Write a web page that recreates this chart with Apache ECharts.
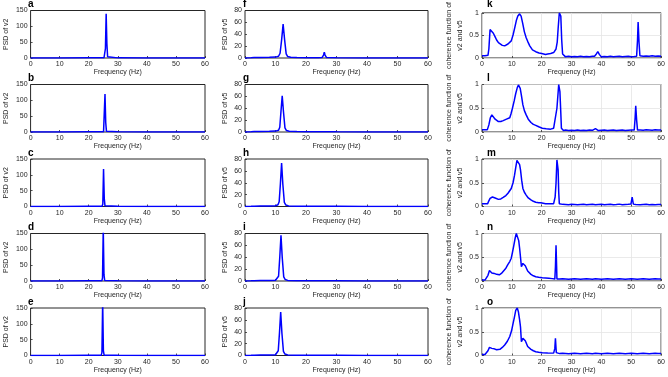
<!DOCTYPE html>
<html>
<head>
<meta charset="utf-8">
<script src="https://cdn.jsdelivr.net/npm/echarts@6/dist/echarts.min.js"></script>
<style>html,body{margin:0;padding:0;background:#fff;}#c{width:668px;height:377px;}</style>
</head>
<body>
<div id="c"></div>
<script>
// ---- Data: [frequency (Hz), value] ----
const xTicks = [0, 10, 20, 30, 40, 50, 60];
const panelLetters = [['a','b','c','d','e'],['f','g','h','i','j'],['k','l','m','n','o']];
const yNames = ['PSD of v2', 'PSD of v5', 'coherence function of\nv2 and v5'];
const yMax = [150, 80, 1];
const yStep = [50, 20, 0.5];

// Column 1: PSD of v2
const psdV2_a = [[0,0.3],[10,0.3],[20,0.4],[25.25,0.5],[25.5,2],[25.75,30],[26,140],[26.25,45],[26.5,4],[26.75,0.6],[30,0.4],[40,0.3],[52,0.3],[60,0.3]];
const psdV2_b = [[0,0.3],[10,0.3],[20,0.4],[25.1,0.5],[25.35,5],[25.6,120],[25.85,30],[26.1,2],[26.35,0.5],[30,0.4],[40,0.3],[60,0.3]];
const psdV2_c = [[0,0.3],[10,0.3],[20,0.4],[24.6,0.5],[24.85,8],[25.1,118],[25.35,25],[25.6,2],[25.85,0.5],[30,0.4],[40,0.3],[60,0.3]];
const psdV2_d = [[0,0.3],[10,0.3],[20,0.4],[24.5,0.5],[24.75,10],[25,165],[25.25,20],[25.5,1.5],[25.75,0.5],[30,0.4],[40,0.3],[60,0.3]];
const psdV2_e = [[0,0.3],[10,0.3],[20,0.4],[24.3,0.5],[24.55,10],[24.8,170],[25.05,15],[25.3,1],[25.55,0.5],[30,0.4],[40,0.3],[60,0.3]];

// Column 2: PSD of v5
const psdV5_f = [[0,0.2],[2,0.3],[3,0.8],[5,1],[8,1.2],[10,1.5],[11,3],[11.5,8],[12,30],[12.5,57],[13,30],[13.5,7],[14,2.5],[15,1.2],[17,0.8],[20,0.5],[24,0.4],[25.25,0.8],[25.75,5],[26,10],[26.25,5],[26.75,0.8],[30,0.3],[40,0.2],[60,0.2]];
const psdV5_g = [[0,0.2],[2,0.3],[3,0.7],[5,0.9],[8,1.1],[10,1.5],[11,3],[11.4,8],[11.8,35],[12.2,61],[12.6,35],[13.1,7],[13.6,2.5],[14.5,1.2],[17,0.7],[20,0.5],[25.3,0.5],[25.8,3],[26.3,0.5],[30,0.3],[40,0.2],[60,0.2]];
const psdV5_h = [[0,0.2],[2,0.3],[3,0.6],[5,0.8],[8,1],[10,1.3],[10.8,3],[11.2,8],[11.6,38],[12,73],[12.4,38],[12.9,7],[13.4,2.5],[14.3,1],[17,0.6],[20,0.4],[25,0.4],[25.6,1.2],[26.2,0.4],[30,0.3],[40,0.2],[60,0.2]];
const psdV5_i = [[0,0.2],[2,0.3],[3,0.6],[5,0.8],[8,1],[10,1.3],[10.6,3],[11,8],[11.4,40],[11.8,77],[12.2,40],[12.7,7],[13.2,2.5],[14,1],[17,0.6],[20,0.4],[30,0.3],[40,0.2],[60,0.2]];
const psdV5_j = [[0,0.2],[2,0.3],[3,0.6],[5,0.8],[8,1],[10,1.3],[10.5,3],[10.9,8],[11.3,38],[11.7,73],[12.1,38],[12.6,7],[13.1,2.5],[14,1],[17,0.6],[20,0.4],[30,0.3],[40,0.2],[60,0.2]];

// Column 3: coherence function of v2 and v5
const coh_k = [[0,0.05],[1,0.05],[2,0.06],[2.3,0.2],[2.7,0.63],[3.2,0.62],[3.8,0.55],[4.4,0.47],[4.9,0.4],[5.5,0.34],[6,0.3],[6.8,0.28],[7.6,0.27],[8.2,0.28],[8.7,0.31],[9.3,0.31],[9.8,0.38],[10.4,0.51],[11,0.68],[11.5,0.83],[12,0.93],[12.6,0.98],[13.1,0.93],[13.6,0.78],[14.2,0.58],[14.8,0.45],[15.3,0.37],[16,0.27],[16.9,0.18],[18,0.14],[19.1,0.11],[20,0.1],[21.3,0.08],[22,0.09],[23,0.1],[24,0.12],[24.8,0.2],[25.2,0.35],[25.5,0.65],[25.9,1.0],[26.4,0.93],[26.7,0.4],[27,0.09],[27.9,0.03],[29,0.04],[30,0.03],[31,0.035],[32,0.03],[33,0.04],[34,0.03],[35,0.035],[36,0.03],[37,0.04],[37.7,0.04],[38.3,0.09],[38.8,0.14],[39.3,0.08],[39.9,0.03],[41,0.035],[42,0.03],[43,0.04],[44,0.03],[45,0.035],[46,0.04],[47,0.03],[48,0.035],[49,0.04],[50,0.03],[51,0.035],[51.8,0.04],[52.1,0.4],[52.3,0.8],[52.6,0.35],[52.9,0.05],[54,0.04],[55,0.045],[56,0.04],[57,0.05],[58,0.04],[59,0.045],[60,0.04]];
const coh_l = [[0,0.05],[1,0.05],[1.8,0.05],[2.3,0.15],[2.8,0.3],[3.3,0.36],[3.9,0.32],[4.4,0.27],[5,0.24],[5.5,0.22],[6.3,0.22],[7.1,0.24],[7.7,0.25],[8.2,0.27],[8.7,0.31],[9.3,0.3],[9.7,0.38],[10.2,0.5],[10.8,0.66],[11.3,0.81],[11.8,0.93],[12.2,0.99],[12.8,0.92],[13.2,0.77],[13.7,0.57],[14.2,0.45],[14.8,0.36],[15.5,0.27],[16.4,0.2],[17.2,0.16],[18,0.14],[19,0.11],[20.2,0.08],[21.5,0.07],[23,0.06],[24,0.08],[24.6,0.12],[25.1,0.5],[25.7,1.0],[26.1,0.85],[26.4,0.4],[26.6,0.08],[27.3,0.03],[28,0.04],[29,0.03],[30,0.035],[31,0.03],[32,0.04],[33,0.03],[34,0.035],[35,0.03],[36,0.04],[37,0.035],[37.6,0.04],[38,0.07],[38.5,0.04],[39,0.03],[40,0.035],[41,0.04],[42,0.03],[43,0.035],[44,0.04],[45,0.03],[46,0.035],[47,0.04],[48,0.03],[49,0.035],[50,0.04],[51,0.04],[51.3,0.3],[51.5,0.55],[51.8,0.25],[52.1,0.04],[53,0.04],[54,0.035],[55,0.045],[56,0.04],[57,0.035],[58,0.045],[59,0.04],[60,0.04]];
const coh_m = [[0,0.06],[1,0.06],[1.9,0.06],[2.3,0.12],[2.7,0.17],[3.5,0.2],[4.4,0.18],[5.5,0.15],[6.3,0.16],[7.1,0.19],[8,0.23],[8.7,0.28],[9.3,0.32],[9.8,0.38],[10.4,0.5],[10.9,0.66],[11.3,0.82],[11.7,0.97],[12.2,0.98],[12.6,0.88],[12.9,0.77],[13.3,0.55],[13.7,0.38],[14.2,0.3],[14.8,0.24],[15.5,0.18],[16.4,0.14],[17.2,0.11],[18,0.09],[19,0.08],[19.7,0.08],[20.5,0.07],[21.3,0.06],[22.5,0.06],[24,0.06],[24.5,0.2],[24.8,0.49],[25.1,0.98],[25.5,0.77],[25.7,0.3],[25.9,0.06],[26.5,0.04],[27,0.045],[28,0.04],[29,0.035],[30,0.045],[31,0.04],[32,0.035],[33,0.04],[34,0.045],[35,0.035],[36,0.04],[37,0.045],[38,0.035],[39,0.04],[40,0.045],[41,0.035],[42,0.04],[43,0.045],[44,0.035],[45,0.04],[46,0.05],[47,0.035],[48,0.04],[49,0.045],[49.9,0.05],[50.3,0.2],[50.7,0.05],[51.5,0.04],[52,0.045],[53,0.035],[54,0.04],[55,0.045],[56,0.035],[57,0.04],[58,0.035],[59,0.04],[60,0.04]];
const coh_n = [[0,0.02],[1,0.02],[1.6,0.03],[2,0.12],[2.5,0.22],[3.3,0.17],[4.1,0.16],[4.9,0.14],[5.8,0.13],[6.5,0.16],[7.1,0.2],[8,0.27],[8.7,0.35],[9.3,0.41],[9.8,0.48],[10.2,0.6],[10.6,0.73],[11.1,0.9],[11.5,1.0],[12,0.96],[12.3,0.85],[12.6,0.69],[12.9,0.5],[13.2,0.3],[13.7,0.37],[14.1,0.35],[14.5,0.32],[15.3,0.21],[16.4,0.14],[17.2,0.11],[18,0.09],[19,0.08],[20.2,0.07],[21.3,0.065],[22.4,0.06],[23.5,0.05],[24.4,0.04],[24.6,0.3],[24.8,0.75],[25,0.3],[25.1,0.04],[26,0.04],[27,0.045],[28,0.04],[29,0.035],[30,0.04],[31,0.045],[32,0.04],[33,0.035],[34,0.04],[35,0.045],[36,0.04],[37,0.035],[38,0.045],[39,0.04],[40,0.035],[41,0.04],[42,0.045],[43,0.04],[44,0.035],[45,0.04],[46,0.045],[47,0.04],[48,0.035],[49,0.04],[50,0.045],[51,0.04],[52,0.035],[53,0.04],[54,0.045],[55,0.04],[56,0.035],[57,0.04],[58,0.045],[59,0.04],[60,0.04]];
const coh_o = [[0,0.02],[1,0.02],[1.6,0.03],[2,0.1],[2.5,0.17],[3.3,0.15],[4.1,0.14],[4.9,0.12],[6,0.13],[6.8,0.17],[7.6,0.22],[8.5,0.3],[9.3,0.4],[9.9,0.52],[10.4,0.67],[10.9,0.82],[11.3,0.95],[11.8,1.0],[12.2,0.92],[12.6,0.75],[12.9,0.6],[13.2,0.29],[13.7,0.36],[14.1,0.34],[14.5,0.31],[15.3,0.19],[16.4,0.13],[17.2,0.1],[18,0.08],[19,0.07],[20.2,0.06],[22,0.055],[24,0.05],[24.4,0.15],[24.6,0.36],[24.8,0.15],[24.9,0.06],[26,0.04],[27,0.045],[28,0.04],[29,0.035],[30,0.04],[31,0.045],[32,0.04],[33,0.035],[34,0.04],[35,0.045],[36,0.04],[37,0.035],[38,0.045],[39,0.04],[40,0.035],[41,0.04],[42,0.045],[43,0.04],[44,0.035],[45,0.04],[46,0.045],[47,0.04],[48,0.035],[49,0.04],[50,0.045],[51,0.04],[52,0.035],[53,0.04],[54,0.045],[55,0.04],[56,0.035],[57,0.04],[58,0.045],[59,0.04],[60,0.04]];

const columnsData = [
  [psdV2_a, psdV2_b, psdV2_c, psdV2_d, psdV2_e],
  [psdV5_f, psdV5_g, psdV5_h, psdV5_i, psdV5_j],
  [coh_k, coh_l, coh_m, coh_n, coh_o]
];

// ---- Layout ----
const colLeft = [22, 245, 482];
const colWidth = 183;
const rowTop = [10.5, 84.5, 159, 233.5, 308];
const rowHeight = 47.5;
const letterX = [28, 243, 487];
const letterDy = -11;
const yNameGap = [12, 10, 11];
const FONT = 'Liberation Sans, Arial, sans-serif';
const TXT = '#262626';

const grid = [], xAxis = [], yAxis = [], series = [], title = [];
let idx = 0;
for (let c = 0; c < 3; c++) {
  for (let r = 0; r < 5; r++) {
    grid.push({
      left: colLeft[c], top: rowTop[r], width: colWidth, height: rowHeight,
      show: true, borderColor: TXT, borderWidth: 1, backgroundColor: '#fff', containLabel: false
    });
    xAxis.push({
      type: 'value', gridIndex: idx, min: 0, max: 60, interval: 10,
      name: 'Frequency (Hz)', nameLocation: 'middle', nameGap: 10,
      nameTextStyle: { fontSize: 7, color: TXT, fontFamily: FONT },
      axisLine: { show: false },
      axisTick: { show: true, inside: true, length: 2, lineStyle: { color: TXT, width: 0.8 } },
      axisLabel: { fontSize: 7, color: TXT, fontFamily: FONT, margin: 3 },
      splitLine: { show: c === 2, lineStyle: { color: '#e4e4e4', width: 0.8 } }
    });
    yAxis.push({
      type: 'value', gridIndex: idx, min: 0, max: yMax[c], interval: yStep[c],
      name: yNames[c], nameLocation: 'middle', nameGap: yNameGap[c], nameRotate: 90,
      nameTextStyle: { fontSize: 7, color: TXT, fontFamily: FONT, lineHeight: 11 },
      axisLine: { show: false },
      axisTick: { show: true, inside: true, length: 2, lineStyle: { color: TXT, width: 0.8 } },
      axisLabel: { fontSize: 7, color: TXT, fontFamily: FONT, margin: 3 },
      splitLine: { show: c === 2, lineStyle: { color: '#e4e4e4', width: 0.8 } }
    });
    series.push({
      type: 'line', xAxisIndex: idx, yAxisIndex: idx, data: columnsData[c][r],
      showSymbol: false, symbol: 'none', clip: true, animation: false,
      lineStyle: { color: '#0000ff', width: 1.5 }
    });
    title.push({
      text: panelLetters[c][r], left: letterX[c], top: rowTop[r] + letterDy, padding: 0,
      textStyle: { fontSize: 10, fontWeight: 'bold', color: '#000', fontFamily: FONT }
    });
    idx++;
  }
}

const chart = echarts.init(document.getElementById('c'), null, { renderer: 'canvas' });
chart.setOption({ animation: false, backgroundColor: '#fff', title, grid, xAxis, yAxis, series });
</script>
</body>
</html>
